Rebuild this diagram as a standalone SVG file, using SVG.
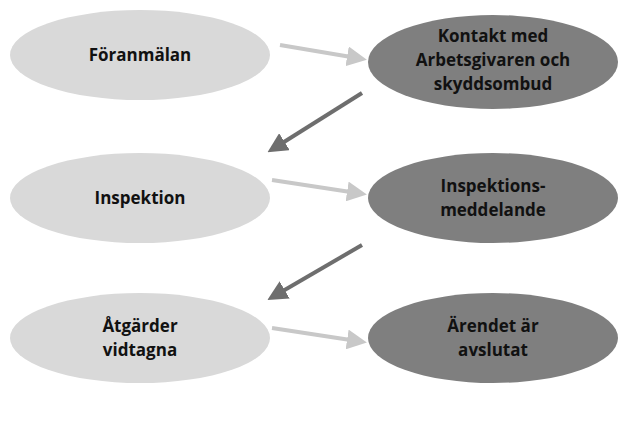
<svg xmlns="http://www.w3.org/2000/svg" width="636" height="425" viewBox="0 0 636 425">
<style>
.l{fill:#d9d9d9}
.d{fill:#7f7f7f}
text{font-family:"Open Sans","Liberation Sans",sans-serif;font-weight:bold;font-size:17px;fill:#111;text-anchor:middle}
.la{stroke:#c8c8c8;stroke-width:4;fill:none}
.da{stroke:#6e6e6e;stroke-width:4;fill:none}
</style>
<defs>
<marker id="ml" markerWidth="5" markerHeight="5" refX="2.5" refY="2.5" orient="auto"><path d="M0,0L5,2.5L0,5z" fill="#c8c8c8"/></marker>
<marker id="md" markerWidth="5" markerHeight="5" refX="2.5" refY="2.5" orient="auto"><path d="M0,0L5,2.5L0,5z" fill="#6e6e6e"/></marker>
</defs>
<rect width="636" height="425" fill="#fff"/>
<g id="n1"><ellipse class="l" cx="140" cy="55" rx="130" ry="45"/><text x="140" y="61">Föranmälan</text></g>
<g id="n2"><ellipse class="d" cx="493" cy="62" rx="125" ry="47"/><text x="493" y="42">Kontakt med</text><text x="493" y="66">Arbetsgivaren och</text><text x="493" y="90">skyddsombud</text></g>
<g id="n3"><ellipse class="l" cx="140" cy="198" rx="130" ry="45"/><text x="140" y="204">Inspektion</text></g>
<g id="n4"><ellipse class="d" cx="493" cy="198" rx="125" ry="45"/><text x="493" y="192">Inspektions-</text><text x="493" y="216">meddelande</text></g>
<g id="n5"><ellipse class="l" cx="140" cy="338" rx="130" ry="45"/><text x="140" y="332">Åtgärder</text><text x="140" y="356">vidtagna</text></g>
<g id="n6"><ellipse class="d" cx="493" cy="338" rx="125" ry="45"/><text x="493" y="332">Ärendet är</text><text x="493" y="356">avslutat</text></g>
<g id="connectors">
<line class="la" x1="280" y1="45" x2="357" y2="58" marker-end="url(#ml)"/>
<line class="da" x1="362" y1="93" x2="276" y2="147" marker-end="url(#md)"/>
<line class="la" x1="272" y1="180" x2="357" y2="193" marker-end="url(#ml)"/>
<line class="da" x1="362" y1="245" x2="276" y2="295" marker-end="url(#md)"/>
<line class="la" x1="272" y1="328" x2="357" y2="341" marker-end="url(#ml)"/>
</g>
</svg>
